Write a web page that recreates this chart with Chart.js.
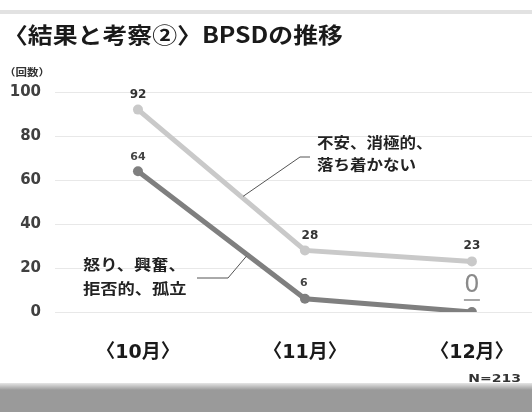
<!DOCTYPE html>
<html>
<head>
<meta charset="utf-8">
<script src="https://cdn.jsdelivr.net/npm/chart.js@4.4.1/dist/chart.umd.min.js"></script>
<style>
  html, body { margin: 0; padding: 0; background: #fff; overflow: hidden; }
  #c { display: block; }
</style>
</head>
<body>
<canvas id="c" width="532" height="412" style="width:532px;height:412px"></canvas>
<script>
// データ
const months = ['〈10月〉', '〈11月〉', '〈12月〉'];
const anxiousValues = [92, 28, 23];   // 不安、消極的、落ち着かない
const angryValues = [64, 6, 0];       // 怒り、興奮、拒否的、孤立
const anxiousName = ['不安、消極的、', '落ち着かない'];
const angryName = ['怒り、興奮、', '拒否的、孤立'];
const yMax = 100;
const yStep = 20;
const sampleNote = 'N=213';

const CJK = '"Noto Sans CJK JP", sans-serif';
const NUM = '"DejaVu Sans", "Noto Sans CJK JP", sans-serif';

// 横に少し伸ばしたテキスト
function drawText(ctx, text, x, y, font, color, align, sx) {
  ctx.save();
  ctx.font = font;
  ctx.fillStyle = color;
  ctx.textAlign = align || 'left';
  ctx.textBaseline = 'middle';
  ctx.translate(x, y);
  ctx.scale(sx || 1, 1);
  ctx.fillText(text, 0, 0);
  ctx.restore();
}

// ページ装飾（タイトル、帯、注記）
const decorPlugin = {
  id: 'decor',
  beforeDraw(chart) {
    const ctx = chart.ctx;
    ctx.save();
    ctx.fillStyle = '#fff';
    ctx.fillRect(0, 0, chart.width, chart.height);
    ctx.fillStyle = '#e2e2e2';
    ctx.fillRect(0, 10, chart.width, 4);
    const g = ctx.createLinearGradient(0, 383, 0, 390);
    g.addColorStop(0, '#e6e6e6');
    g.addColorStop(1, '#9a9a9a');
    ctx.fillStyle = g;
    ctx.fillRect(0, 383, chart.width, 7);
    ctx.fillStyle = '#9a9a9a';
    ctx.fillRect(0, 390, chart.width, 22);
    ctx.restore();

    drawText(ctx, '〈結果と考察②〉BPSDの推移', 3, 35, 'bold 22px ' + CJK, '#1a1a1a', 'left', 1.13);
    drawText(ctx, '（回数）', 4, 72, 'bold 10px ' + CJK, '#333', 'left', 1.15);
    drawText(ctx, sampleNote, 521, 379, 'bold 10px ' + NUM, '#333', 'right', 1.4);
  },
  afterDatasetsDraw(chart) {
    const ctx = chart.ctx;
    const xs = chart.scales.x, ys = chart.scales.y;

    // データラベル
    const labelStyle = [
      { dy: [-15, -15, -16], dx: [0, 5, 0], font: 'bold 12px ' + NUM, color: '#333' },
      { dy: [-14, -16, -26], dx: [0, -1, 0], font: 'bold 11px ' + NUM, color: '#444' }
    ];
    const seriesValues = [anxiousValues, angryValues];
    chart.data.datasets.forEach((ds, i) => {
      const meta = chart.getDatasetMeta(i);
      meta.data.forEach((pt, j) => {
        const st = labelStyle[i];
        const v = seriesValues[i][j];
        const x = pt.x + st.dx[j], y = pt.y + st.dy[j];
        if (v === 0) {
          drawText(ctx, String(v), x, y, '24px ' + NUM, '#8a8a8a', 'center', 1);
          ctx.save();
          ctx.strokeStyle = '#8a8a8a';
          ctx.lineWidth = 1.5;
          ctx.beginPath();
          ctx.moveTo(x - 8, y + 14);
          ctx.lineTo(x + 8, y + 14);
          ctx.stroke();
          ctx.restore();
        } else {
          drawText(ctx, String(v), x, y, st.font, st.color, 'center', 1);
        }
      });
    });

    // 系列名と引き出し線
    const along = (vals, t) => {
      const x = xs.getPixelForValue(t);
      const y = ys.getPixelForValue(vals[0] + (vals[1] - vals[0]) * t);
      return { x, y };
    };
    ctx.save();
    ctx.strokeStyle = '#555';
    ctx.lineWidth = 1;
    let p = along(anxiousValues, 0.63);
    ctx.beginPath();
    ctx.moveTo(p.x, p.y - 2);
    ctx.lineTo(300, 157);
    ctx.lineTo(310, 157);
    ctx.stroke();
    p = along(angryValues, 0.65);
    ctx.beginPath();
    ctx.moveTo(p.x, p.y + 2);
    ctx.lineTo(228, 278);
    ctx.lineTo(197, 278);
    ctx.stroke();
    ctx.restore();

    drawText(ctx, anxiousName[0], 317, 142, 'bold 15px ' + CJK, '#222', 'left', 1.1);
    drawText(ctx, anxiousName[1], 317, 164, 'bold 15px ' + CJK, '#222', 'left', 1.1);
    drawText(ctx, angryName[0], 83, 264, 'bold 15px ' + CJK, '#222', 'left', 1.15);
    drawText(ctx, angryName[1], 83, 288, 'bold 15px ' + CJK, '#222', 'left', 1.15);
  }
};

const toPoints = vals => vals.map((v, i) => ({ x: i, y: v }));

new Chart(document.getElementById('c'), {
  type: 'line',
  data: {
    datasets: [
      {
        label: anxiousName.join(''),
        data: toPoints(anxiousValues),
        borderColor: '#c9c9c9',
        backgroundColor: '#c9c9c9',
        borderWidth: 5,
        pointRadius: 5,
        pointBorderWidth: 0,
        tension: 0
      },
      {
        label: angryName.join(''),
        data: toPoints(angryValues),
        borderColor: '#7f7f7f',
        backgroundColor: '#7f7f7f',
        borderWidth: 5,
        pointRadius: 5,
        pointBorderWidth: 0,
        tension: 0
      }
    ]
  },
  options: {
    responsive: false,
    animation: false,
    devicePixelRatio: 1,
    layout: { autoPadding: false, padding: { top: 92, bottom: 40, left: 0, right: 0 } },
    plugins: {
      legend: { display: false },
      tooltip: { enabled: false }
    },
    scales: {
      x: {
        type: 'linear',
        min: -0.497,
        max: 2.36,
        // grid非表示でもtickLengthでラベル位置を下げる
        grid: { display: false, drawTicks: true, tickLength: 26 },
        border: { display: false },
        afterBuildTicks: scale => { scale.ticks = months.map((m, i) => ({ value: i })); },
        afterFit: scale => { scale.height = 60; },
        ticks: {
          padding: 4,
          autoSkip: false,
          maxRotation: 0,
          color: '#1a1a1a',
          font: { family: NUM, size: 19, weight: 'bold' },
          callback: v => months[v]
        }
      },
      y: {
        min: 0,
        max: yMax,
        grid: { color: '#e8e8e8', lineWidth: 1, drawTicks: false },
        border: { display: false },
        afterFit: scale => { scale.width = 55; },
        ticks: {
          stepSize: yStep,
          padding: 14,
          color: '#404040',
          font: { family: NUM, size: 15, weight: 'bold' }
        }
      }
    }
  },
  plugins: [decorPlugin]
});
</script>
</body>
</html>
